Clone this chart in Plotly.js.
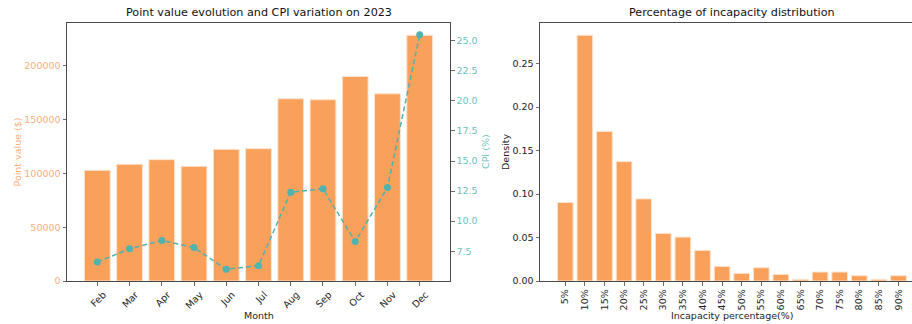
<!DOCTYPE html>
<html>
<head>
<meta charset="utf-8">
<script src="https://cdn.plot.ly/plotly-3.0.1.min.js"></script>
<style>
  html, body { margin: 0; padding: 0; background: #fff; }
  #chart { width: 912px; height: 324px; }
</style>
</head>
<body>
<div id="chart"></div>
<script>
// Monthly point value and CPI, 2023
const months = ['Feb', 'Mar', 'Apr', 'May', 'Jun', 'Jul', 'Aug', 'Sep', 'Oct', 'Nov', 'Dec'];
const pointValue = [102900, 108500, 112800, 106600, 122400, 123000, 169400, 168500, 190100, 174000, 228400];
const cpi = [6.6, 7.7, 8.4, 7.8, 6.0, 6.3, 12.4, 12.7, 8.3, 12.8, 25.5];

// Incapacity percentage distribution
const incapacityLabels = ['5%', '10%', '15%', '20%', '25%', '30%', '35%', '40%', '45%',
  '50%', '55%', '60%', '65%', '70%', '75%', '80%', '85%', '90%'];
const density = [0.0902, 0.2825, 0.172, 0.1372, 0.0944, 0.0547, 0.0505, 0.0352, 0.0168,
  0.0088, 0.0153, 0.0076, 0.0019, 0.0103, 0.0103, 0.0061, 0.0019, 0.0061];

const W = 912, H = 324;
const BAR = '#f9a05a';
const BAR_EDGE = '#fde3cf';
const TEAL = '#4fb3ae';
const TEAL_TXT = '#6cc2bd';
const ORANGE_TXT = '#fbb07c';
const SPINE = '#4a4a4a';
const FONT = 'DejaVu Sans, sans-serif';

// pixel-based domains
const px = (a, b) => [a / W, Math.min(b / W, 1)];
const py = (top, bottom) => [1 - bottom / H, 1 - top / H];

const leftDom = px(67, 450);
const rightDom = px(540, 923);
const yDom = py(23, 281);

// matplotlib-style 5% margins
function padRange(lo, hi, pad) { const s = hi - lo; return [lo - s * pad, hi + s * pad]; }
const pvMax = Math.max(...pointValue);
const cpiRange = padRange(Math.min(...cpi), Math.max(...cpi), 0.05);
const denMax = Math.max(...density);

const traces = [
  {
    type: 'bar', x: months, y: pointValue, xaxis: 'x', yaxis: 'y',
    marker: { color: BAR, line: { color: BAR_EDGE, width: 1 } },
    hoverinfo: 'x+y', showlegend: false
  },
  {
    type: 'scatter', mode: 'lines+markers', x: months, y: cpi, xaxis: 'x', yaxis: 'y2',
    line: { color: TEAL, width: 1.5, dash: '5px,3px' },
    marker: { color: TEAL, size: 7 },
    showlegend: false
  },
  {
    type: 'bar', x: incapacityLabels, y: density, xaxis: 'x2', yaxis: 'y3',
    marker: { color: BAR, line: { color: BAR_EDGE, width: 1 } },
    showlegend: false
  }
];

const tickCommon = {
  ticks: 'outside', ticklen: 3.5, tickwidth: 0.8, tickcolor: SPINE,
  showline: true, linecolor: SPINE, linewidth: 1,
  showgrid: false, zeroline: false
};

// right subplot x range: category spacing matched to left edge, clipped at the page edge
const rLeft = -1.29;
const rUnit = 19.6;
const rRight = rLeft + (W - 540) / rUnit;

const layout = {
  width: W, height: H,
  margin: { l: 0, r: 0, t: 0, b: 0 },
  paper_bgcolor: '#fff', plot_bgcolor: '#fff',
  font: { family: FONT, size: 9.5, color: '#222' },
  bargap: 0.2,
  xaxis: Object.assign({}, tickCommon, {
    domain: leftDom, anchor: 'y', type: 'category',
    range: [-0.94, 10.94], mirror: true,
    tickangle: -45, ticklabelshift: 6,
    tickfont: { family: FONT, size: 9.5, color: '#222' }
  }),
  yaxis: Object.assign({}, tickCommon, {
    domain: yDom, anchor: 'x',
    range: [0, pvMax * 1.05],
    tickvals: [0, 50000, 100000, 150000, 200000],
    ticktext: ['0', '50000', '100000', '150000', '200000'],
    tickfont: { family: FONT, size: 9.5, color: ORANGE_TXT }
  }),
  yaxis2: Object.assign({}, tickCommon, {
    domain: yDom, anchor: 'x', overlaying: 'y', side: 'right',
    range: cpiRange,
    tickvals: [7.5, 10, 12.5, 15, 17.5, 20, 22.5, 25],
    tickformat: '.1f',
    tickfont: { family: FONT, size: 9.5, color: TEAL_TXT }
  }),
  xaxis2: Object.assign({}, tickCommon, {
    domain: rightDom, anchor: 'y3', type: 'category',
    range: [rLeft, rRight], mirror: true,
    tickangle: -90,
    tickfont: { family: FONT, size: 9.5, color: '#222' }
  }),
  yaxis3: Object.assign({}, tickCommon, {
    domain: yDom, anchor: 'x2',
    range: [0, denMax * 1.05],
    tickvals: [0, 0.05, 0.1, 0.15, 0.2, 0.25],
    tickformat: '.2f',
    tickfont: { family: FONT, size: 9.5, color: '#222' }
  }),
  annotations: [
    { text: 'Point value evolution and CPI variation on 2023', xref: 'paper', yref: 'paper',
      x: (67 + 450) / 2 / W, y: 1 - 13 / H, xanchor: 'center', yanchor: 'middle', showarrow: false,
      font: { family: FONT, size: 11.2, color: '#111' } },
    { text: 'Percentage of incapacity distribution', xref: 'paper', yref: 'paper',
      x: 731.5 / W, y: 1 - 13 / H, xanchor: 'center', yanchor: 'middle', showarrow: false,
      font: { family: FONT, size: 11.2, color: '#111' } },
    { text: 'Month', xref: 'paper', yref: 'paper',
      x: 258.5 / W, y: 1 - 315 / H, xanchor: 'center', yanchor: 'middle', showarrow: false,
      font: { family: FONT, size: 9.5, color: '#222' } },
    { text: 'Incapacity percentage(%)', xref: 'paper', yref: 'paper',
      x: 731.5 / W, y: 1 - 315 / H, xanchor: 'center', yanchor: 'middle', showarrow: false,
      font: { family: FONT, size: 9.5, color: '#222' } },
    { text: 'Point value ($)', xref: 'paper', yref: 'paper', textangle: -90,
      x: 16.5 / W, y: 1 - 152 / H, xanchor: 'center', yanchor: 'middle', showarrow: false,
      font: { family: FONT, size: 9.5, color: ORANGE_TXT } },
    { text: 'CPI (%)', xref: 'paper', yref: 'paper', textangle: -90,
      x: 485 / W, y: 1 - 152 / H, xanchor: 'center', yanchor: 'middle', showarrow: false,
      font: { family: FONT, size: 9.5, color: TEAL_TXT } },
    { text: 'Density', xref: 'paper', yref: 'paper', textangle: -90,
      x: 505 / W, y: 1 - 152 / H, xanchor: 'center', yanchor: 'middle', showarrow: false,
      font: { family: FONT, size: 9.5, color: '#222' } }
  ]
};

Plotly.newPlot('chart', traces, layout, { staticPlot: true, displayModeBar: false });
</script>
</body>
</html>
